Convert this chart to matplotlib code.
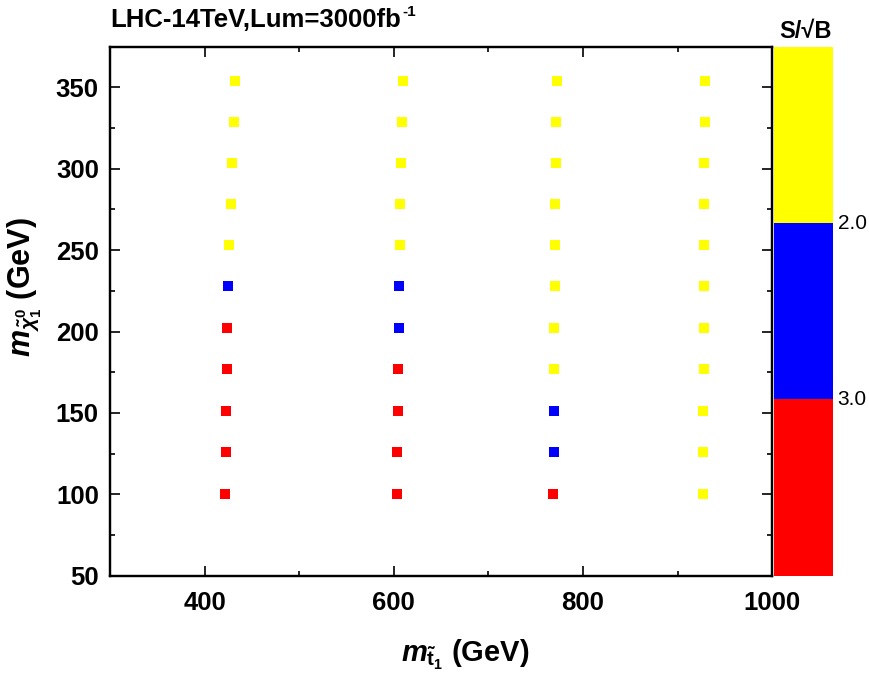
import matplotlib
matplotlib.use("Agg")
import matplotlib.pyplot as plt
from matplotlib.ticker import MultipleLocator, FixedLocator, NullFormatter

plt.rcParams['font.family'] = ['Liberation Sans', 'DejaVu Sans']
plt.rcParams['font.weight'] = 'bold'
plt.rcParams['mathtext.fontset'] = 'custom'
plt.rcParams['mathtext.rm'] = 'Liberation Sans:bold'
plt.rcParams['mathtext.it'] = 'Liberation Sans:italic:bold'
plt.rcParams['mathtext.bf'] = 'Liberation Sans:bold'

# ---- data ----
col1_x = [421.5, 422.3, 422.6, 423.7, 423.7, 425.0, 426.1, 427.6, 429.0, 430.7, 432.1]
col2_x = [603.7, 603.7, 604.1, 604.4, 605.1, 605.5, 606.2, 606.8, 607.6, 608.6, 609.7]
col3_x = [768.2, 769.0, 769.0, 769.6, 769.6, 770.0, 770.3, 770.7, 771.1, 771.4, 772.5]
col4_x = [926.8, 926.8, 926.8, 927.5, 927.5, 927.8, 927.8, 928.2, 928.2, 928.5, 929.2]
m_chi = [100.3, 125.8, 151.3, 176.7, 202.2, 227.7, 252.9, 278.4, 303.6, 328.7, 354.0]

# significance class per point: 'r' >3, 'b' 2-3, 'y' <2
col1_cls = ['r', 'r', 'r', 'r', 'r', 'b', 'y', 'y', 'y', 'y', 'y']
col2_cls = ['r', 'r', 'r', 'r', 'b', 'b', 'y', 'y', 'y', 'y', 'y']
col3_cls = ['r', 'b', 'b', 'y', 'y', 'y', 'y', 'y', 'y', 'y', 'y']
col4_cls = ['y', 'y', 'y', 'y', 'y', 'y', 'y', 'y', 'y', 'y', 'y']

class_colors = {'r': '#ff0000', 'b': '#0000ff', 'y': '#ffff00'}

x_ticks = [400, 600, 800, 1000]
y_ticks = [50, 100, 150, 200, 250, 300, 350]

cbar_colors = ['#ff0000', '#0000ff', '#ffff00']
cbar_heights = [1, 1, 1]
cbar_labels = ['3.0', '2.0']

# ---- figure ----
fig = plt.figure(figsize=(8.7, 6.75), dpi=100)
ax = fig.add_axes([0.1264, 0.1471, 0.7613, 0.7837])

for xs, cls in [(col1_x, col1_cls), (col2_x, col2_cls), (col3_x, col3_cls), (col4_x, col4_cls)]:
    ax.scatter(xs, m_chi, c=[class_colors[c] for c in cls], marker='s', s=52,
               linewidths=0, zorder=3)

ax.set_xlim(300, 1000)
ax.set_ylim(50, 375)
ax.set_xticks(x_ticks)
ax.set_yticks(y_ticks)
ax.xaxis.set_minor_locator(MultipleLocator(100))
ax.yaxis.set_minor_locator(MultipleLocator(25))
ax.tick_params(which='both', direction='in', top=True, right=False, width=1.2,
               labelsize=18.5)
ax.tick_params(axis='x', which='both', pad=11)
ax.tick_params(axis='y', which='both', pad=8)
ax.tick_params(which='major', length=7)
ax.tick_params(which='minor', length=3.5)
for lab in ax.get_xticklabels() + ax.get_yticklabels():
    lab.set_fontweight('bold')
for sp in ax.spines.values():
    sp.set_linewidth(1.6)

# right axis with its own tick spacing
axr = ax.twinx()
axr.set_ylim(0, 13)
axr.yaxis.set_major_locator(FixedLocator([2, 4, 6, 8, 10, 12]))
axr.yaxis.set_minor_locator(FixedLocator([1, 3, 5, 7, 9, 11]))
axr.yaxis.set_major_formatter(NullFormatter())
axr.tick_params(which='both', direction='in', width=1.2)
axr.tick_params(which='major', length=7)
axr.tick_params(which='minor', length=3.5)
for sp in axr.spines.values():
    sp.set_linewidth(1.6)

fig.text(465 / 870, 1 - 662 / 675, r'$m_{\tilde{\mathrm{t}}_1}$ (GeV)', fontsize=21,
         fontweight='bold', ha='center', va='baseline')
fig.text(25 / 870, 1 - 287 / 675, r'$m_{\tilde{\chi}_1^0}$ (GeV)', fontsize=22,
         fontweight='bold', ha='center', va='center', rotation=90)
title = fig.text(0.1264, 0.971, 'LHC-14TeV,Lum=3000fb', fontsize=18.5, fontweight='bold',
                 ha='left', va='center')
fig.text(0, 0, '-1', fontsize=11, fontweight='bold', ha='left', va='center',
         transform=matplotlib.transforms.offset_copy(
             title.get_transform(), fig=fig, x=0, y=0))
fig.texts[-1].remove()
ax.annotate('-1', xy=(1.0, 0.82), xycoords=title, xytext=(1, 0), textcoords='offset points',
            fontsize=11, fontweight='bold', ha='left', va='center', annotation_clip=False)

# colour key
cax = fig.add_axes([0.8897, 0.1471, 0.0678, 0.7837])
bottoms = [sum(cbar_heights[:i]) for i in range(len(cbar_heights))]
cax.bar([0] * len(cbar_heights), cbar_heights, bottom=bottoms, width=1.0,
        color=cbar_colors, linewidth=0)
cax.set_xlim(-0.5, 0.5)
cax.set_ylim(0, sum(cbar_heights))
cax.axis('off')
for i, lab in enumerate(cbar_labels):
    cax.text(1.08, bottoms[i + 1], lab, fontsize=15, fontweight='normal',
             ha='left', va='center', transform=cax.get_yaxis_transform(), clip_on=False)
fig.text(806 / 870, 1 - 31 / 675, 'S/\u221aB', fontsize=17, fontweight='bold',
         ha='center', va='center')

fig.savefig('out.png', dpi=100)
